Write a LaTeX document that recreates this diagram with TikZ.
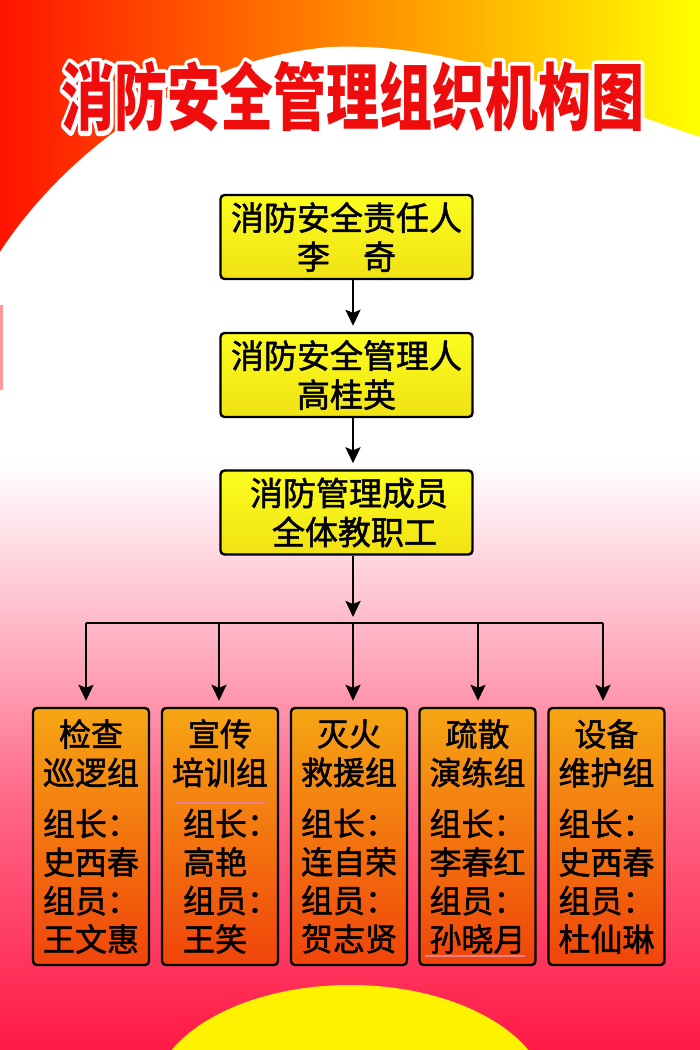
\documentclass[tikz,border=0pt]{standalone}
\usepackage{fontspec}
\usepackage{graphicx}
\newfontfamily\cjk{Noto Sans CJK SC}
\newfontfamily\cjkb{Noto Sans CJK SC}[FakeBold=1.5]
\usetikzlibrary{arrows.meta,calc}
\definecolor{bgred}{RGB}{255,20,0}
\definecolor{bgorange}{RGB}{255,140,0}
\definecolor{bgyellow}{RGB}{255,255,0}
\definecolor{pkA}{RGB}{255,196,210}
\definecolor{pkB}{RGB}{255,104,135}
\definecolor{pkC}{RGB}{255,25,70}
\definecolor{ytop}{RGB}{252,252,30}
\definecolor{ybot}{RGB}{240,226,20}
\definecolor{otop}{RGB}{246,166,20}
\definecolor{obot}{RGB}{240,68,10}
\definecolor{titlered}{RGB}{238,12,12}
\definecolor{pinkline}{RGB}{240,128,144}
\newcommand\grptext[5][0pt]{\parbox{3em}{\centering #2\\#3\par\vspace{12.5pt}\raggedright\leftskip=#1\relax 组长：\\#4\\组员：\\#5\par}}
\newcommand\strokedtext[1]{\special{pdf:literal direct 1 1 1 RG 1 j 1 J 6.5 w 1 Tr}#1\special{pdf:literal direct 0 Tr}}
\tikzset{
 topbox/.style={draw=black, line width=2.4pt, rounded corners=4pt, top color=ytop, bottom color=ybot,
   minimum width=252pt, minimum height=84pt, inner sep=0pt, align=center,
   font=\cjkb\fontsize{33}{39}\selectfont},
 grpbox/.style={draw=black, line width=2.4pt, rounded corners=4pt, top color=otop, bottom color=obot,
   minimum width=116pt, minimum height=257pt, inner sep=0pt,
   font=\cjkb\fontsize{32}{38.5}\selectfont},
 arr/.style={line width=2.4pt, -{Stealth[length=16pt,width=15pt,inset=3pt]}, shorten >=6pt},
 busline/.style={line width=2.4pt},
 titletext/.style={font=\cjk\bfseries\fontsize{53}{53}\selectfont, inner sep=0pt},
 pinkrule/.style={draw=pinkline, line width=2pt},
}
\begin{document}
\begin{tikzpicture}[x=1pt,y=-1pt]
\useasboundingbox (0,0) rectangle (700,1050);
% background
\shade[left color=bgred, middle color=bgorange, right color=bgyellow] (0,0) rectangle (700,300);
\fill[white] (0,252) .. controls (60,160) and (180,60) .. (330,47)
  .. controls (450,42) and (560,90) .. (700,137) -- (700,1050) -- (0,1050) -- cycle;
\shade[top color=white, bottom color=pkA] (0,460) rectangle (700,600.5);
\shade[top color=pkA, bottom color=pkB] (0,600) rectangle (700,800.5);
\shade[top color=pkB, bottom color=pkC] (0,800) rectangle (700,1050);
\fill[red!40] (0,305) rectangle (3,390);
\begin{scope}
\clip (0,0) rectangle (700,1050);
\fill[yellow] (350,1100) ellipse [x radius=198, y radius=115];
\end{scope}
% title: white stroked outline behind red fill
\coordinate (tc) at (353,97);
\node[titletext, text=white] (titlebg) at (tc) {\scalebox{1}[1.38]{\strokedtext{消防安全管理组织机构图}}};
\node[titletext, text=titlered] (title) at (tc) {\scalebox{1}[1.38]{消防安全管理组织机构图}};
% top boxes
\node[topbox] (b1) at (346.5,237) {消防安全责任人\\李　奇};
\node[topbox] (b2) at (346.5,375) {消防安全管理人\\高桂英};
\node[topbox] (b3) at (346.5,512.5) {\hspace*{5pt}消防管理成员\\\hspace*{16pt}全体教职工};
% bus coordinates
\coordinate (d1) at (86,623);
\coordinate (d2) at (219,623);
\coordinate (d3) at (353,623);
\coordinate (d4) at (478,623);
\coordinate (d5) at (603,623);
\draw[arr] (b1.south -| d3) -- (b2.north -| d3);
\draw[arr] (b2.south -| d3) -- (b3.north -| d3);
\draw[arr] (b3.south -| d3) -- (d3);
\draw[busline] (d1) -- (d5);
% group boxes
\node[grpbox] (g1) at (91,836.5) {\grptext{检查}{巡逻组}{史西春}{王文惠}};
\node[grpbox] (g2) at (220,836.5) {\grptext[11pt]{宣传}{培训组}{高艳}{王笑}};
\node[grpbox] (g3) at (349,836.5) {\grptext{灭火}{救援组}{连自荣}{贺志贤}};
\node[grpbox] (g4) at (477.5,836.5) {\grptext{疏散}{演练组}{李春红}{孙晓月}};
\node[grpbox] (g5) at (606.5,836.5) {\grptext{设备}{维护组}{史西春}{杜仙琳}};
\foreach \i in {1,...,5}
  \draw[arr] (d\i) -- (d\i |- g\i.north);
\draw[pinkrule] (176,803) -- (265,803);
\draw[pinkrule] (425,956) -- (525,956);
\end{tikzpicture}
\end{document}
